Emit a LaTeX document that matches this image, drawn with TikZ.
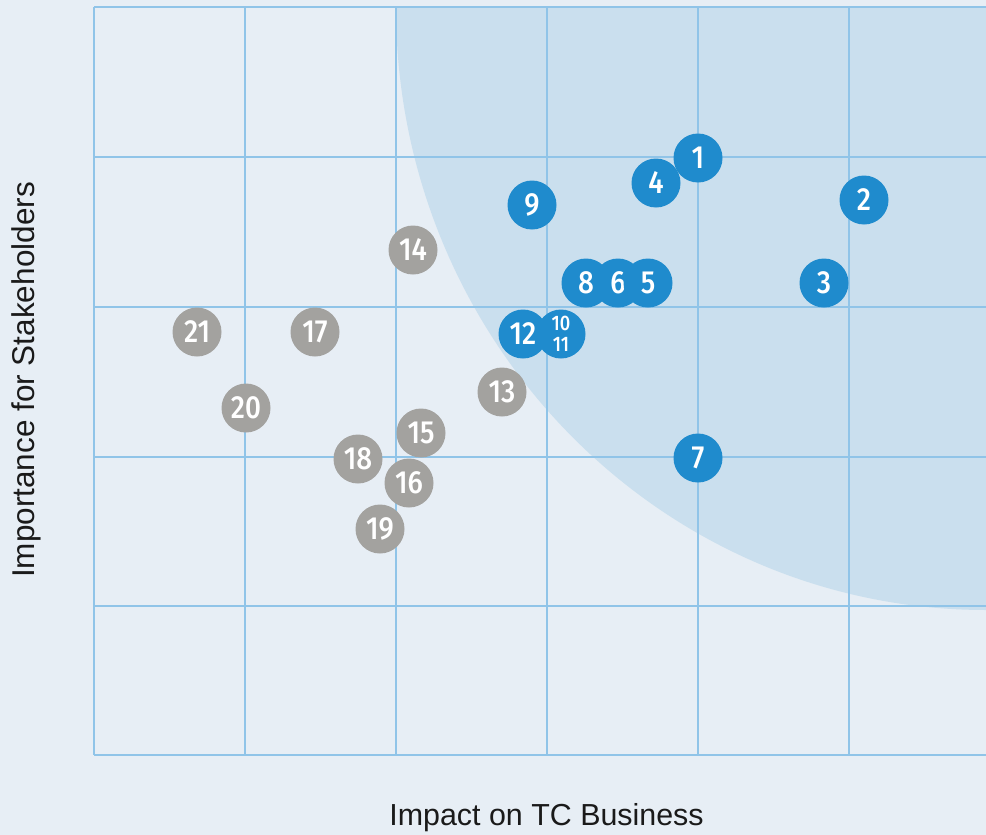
\documentclass[tikz,border=0pt]{standalone}
\usepackage{fontspec}
\setmainfont{Liberation Sans}
\newfontfamily\numfont{Fira Sans}[UprightFont=* Medium, FakeStretch=0.87]
\definecolor{bg}{HTML}{E7EEF5}
\definecolor{shadec}{HTML}{CADFEE}
\definecolor{gridc}{HTML}{90C4E8}
\definecolor{blueb}{HTML}{1F8BCD}
\definecolor{grayb}{HTML}{A3A29F}
\definecolor{labelc}{HTML}{1A1A1A}
\tikzset{
  gridline/.style={draw=gridc, line width=1.6pt},
  dot/.style={circle, minimum size=49pt, inner sep=0pt, text=white,
    font=\numfont\fontsize{32}{32}\selectfont},
  bluedot/.style={dot, fill=blueb},
  graydot/.style={dot, fill=grayb},
  smalldot/.style={bluedot, align=center, font=\numfont\fontsize{21}{21.5}\selectfont},
  axislabel/.style={text=labelc, font=\fontsize{30.4}{30}\selectfont, inner sep=0pt}
}
\begin{document}
\begin{tikzpicture}[x=1pt, y=-1pt]
\useasboundingbox (0,0) rectangle (986,835);
\fill[bg] (0,0) rectangle (986,835);
% shaded region
\begin{scope}
  \clip (94,7) rectangle (986,755);
  \fill[shadec] (986,7) ellipse [x radius=590, y radius=603];
\end{scope}
% grid
\foreach \gx in {94,245,396,547,698,849} \draw[gridline] (\gx,7) -- (\gx,755);
\foreach \gy in {7,157,307,457,606,755} \draw[gridline] (94,\gy) -- (986,\gy);
% gray points
\node[graydot] (c21) at (197,332) {21};
\node[graydot] (c17) at (315,332) {17};
\node[graydot] (c20) at (246,408) {20};
\node[graydot] (c14) at (413,250) {14};
\node[graydot] (c13) at (502,392) {13};
\node[graydot] (c15) at (421,433) {15};
\node[graydot] (c18) at (358,459) {18};
\node[graydot] (c16) at (409,483) {16};
\node[graydot] (c19) at (380,529) {19};
% blue points
\node[bluedot] (c9) at (532,205) {9};
\node[bluedot] (c4) at (656,183) {4};
\node[bluedot] (c1) at (698,158) {1};
\node[bluedot] (c2) at (864,200) {2};
\node[bluedot] (c3) at (824,283) {3};
\node[bluedot] (c8) at (586,283) {8};
\node[bluedot] (c6) at (618,283) {6};
\node[bluedot] (c5) at (648,283) {5};
\node[smalldot] (c10) at (561,334) {10\\11};
\node[bluedot] (c12) at (523,334) {12};
\node[bluedot] (c7) at (698,458) {7};
% axis labels
\node[axislabel] (xlab) at (546.5,818) {Impact on TC Business};
\node[axislabel, rotate=90, font=\fontsize{31.5}{30}\selectfont] (ylab) at (26,380) {Importance for Stakeholders};
\end{tikzpicture}
\end{document}
